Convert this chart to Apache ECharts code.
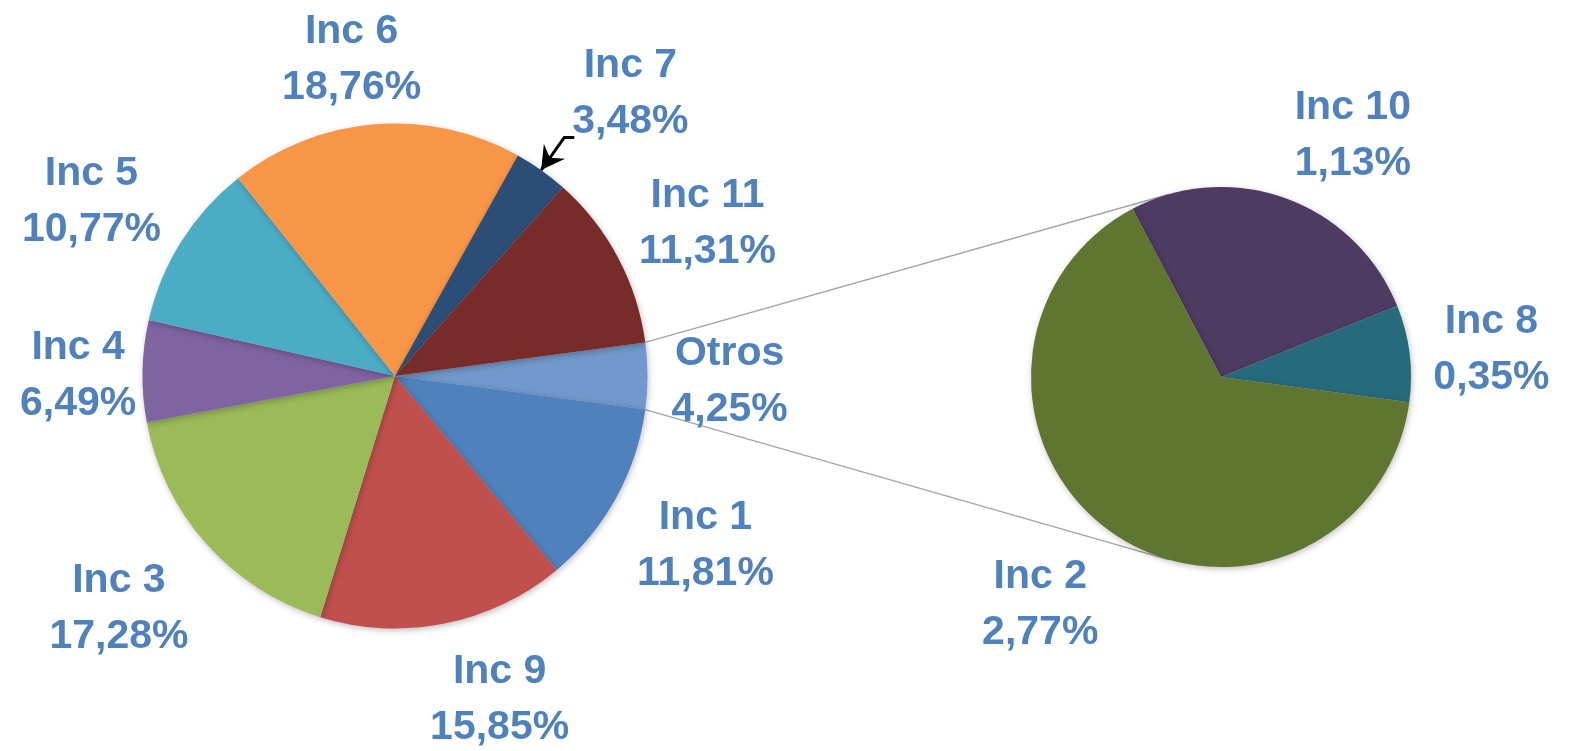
<!DOCTYPE html>
<html>
<head>
<meta charset="utf-8">
<title>Incidencias</title>
<script src="https://cdn.jsdelivr.net/npm/echarts@6/dist/echarts.min.js"></script>
<style>
	html, body { margin: 0; padding: 0; background: #fff; }
	#grafico { width: 1573px; height: 751px; }
</style>
</head>
<body>
<div id="grafico"></div>
<script>
// datos del grafico principal (Otros = suma del secundario)
var nombresPrincipal = ['Otros', 'Inc 1', 'Inc 9', 'Inc 3', 'Inc 4', 'Inc 5', 'Inc 6', 'Inc 7', 'Inc 11'];
var valoresPrincipal = [4.25, 11.81, 15.85, 17.28, 6.49, 10.77, 18.76, 3.48, 11.31];
// datos del grafico secundario
var nombresOtros = ['Inc 10', 'Inc 8', 'Inc 2'];
var valoresOtros = [1.13, 0.35, 2.77];

var coloresPrincipal = ['#7299CD', '#4F81BD', '#C0504D', '#9BBB59', '#8064A2', '#4BACC6', '#F79646', '#2C4D75', '#772C2A'];
var coloresOtros = ['#4D3B62', '#276A7C', '#5F7530'];

// geometria
var c1 = [395, 376], r1 = 252.5;
var c2 = [1221, 377], r2 = 190;
var conFlecha = 'Inc 7'; // la unica etiqueta con flecha
var huecoX = 24, huecoY = 15; // hueco entre tarta y etiqueta
var bajarTexto = 6;           // el texto de Excel queda algo mas bajo
var margen = 20;              // las etiquetas no salen del area del grafico

function suma(arr) {
	var s = 0;
	for (var i = 0; i < arr.length; i++) s += arr[i];
	return s;
}
var totalPrincipal = suma(valoresPrincipal);
var totalOtros = suma(valoresOtros);
var mitadOtros = valoresPrincipal[0] / totalPrincipal * 180; // Otros centrado a las 3
var inicioPrincipal = mitadOtros;
var inicioOtros = (valoresOtros[0] + valoresOtros[1]) / totalOtros * 360 - mitadOtros;

function textoPct(v) {
	return v.toFixed(2).replace('.', ',') + '%';
}

var datosPrincipal = nombresPrincipal.map(function (n, i) {
	var d = { name: n, value: valoresPrincipal[i], itemStyle: { color: coloresPrincipal[i] } };
	if (n == conFlecha) {
		d.labelLine = { lineStyle: { color: '#000', width: 3 } };
	}
	return d;
});
var datosOtros = nombresOtros.map(function (n, i) {
	return { name: n, value: valoresOtros[i], itemStyle: { color: coloresOtros[i] } };
});

function limitar(v, a, b) {
	return Math.max(a, Math.min(b, v));
}

// coloca la etiqueta fuera de la tarta, como el "ajuste perfecto" de Excel
function colocarEtiqueta(params) {
	var pts = params.labelLinePoints;
	if (!pts) return {};
	var dx = pts[1][0] - pts[0][0], dy = pts[1][1] - pts[0][1];
	var len = Math.sqrt(dx * dx + dy * dy);
	dx /= len; dy /= len;
	var w = params.labelRect.width, h = params.labelRect.height;
	if (params.seriesIndex === 0 && nombresPrincipal[params.dataIndex] == conFlecha) {
		return { x: pts[2][0] + w / 2 - 2, y: pts[2][1] + 12, align: 'center', verticalAlign: 'bottom', labelLinePoints: pts };
	}
	var fx = limitar(dx * 3.7, -1, 1);
	var fy = limitar(dy * 1.4, -1, 1);
	var x = pts[0][0] + fx * w / 2 + dx * huecoX;
	var y = pts[0][1] + fy * h / 2 + dy * Math.abs(dy) * huecoY + bajarTexto;
	x = limitar(x, margen + w / 2, myChart.getWidth() - margen - w / 2);
	return { x: x, y: y, align: 'center', verticalAlign: 'middle' };
}

var etiqueta = {
	show: true,
	position: 'outside',
	overflow: 'none',
	formatter: function (p) { return p.name + '\n' + textoPct(p.value); },
	fontFamily: 'Liberation Sans',
	fontWeight: 'bold',
	fontSize: 41,
	lineHeight: 56,
	color: '#4F81BD'
};
var linea = { show: true, length: 40, length2: 10, smooth: false, lineStyle: { color: 'rgba(0,0,0,0)', width: 1 } };
var sombra = { shadowBlur: 6, shadowColor: 'rgba(0,0,0,0.25)', shadowOffsetX: 1, shadowOffsetY: 2, borderWidth: 0 };

// lineas de union entre Otros y la tarta secundaria (tangentes)
var graficos = [];
[1, -1].forEach(function (signo) {
	var a = signo * mitadOtros * Math.PI / 180;
	var p = [c1[0] + r1 * Math.cos(a), c1[1] - r1 * Math.sin(a)];
	var vx = p[0] - c2[0], vy = p[1] - c2[1];
	var d = Math.sqrt(vx * vx + vy * vy);
	var t = Math.atan2(vy, vx) + signo * Math.acos(r2 / d);
	graficos.push({
		type: 'line',
		z: 0,
		shape: { x1: p[0], y1: p[1], x2: c2[0] + r2 * Math.cos(t), y2: c2[1] + r2 * Math.sin(t) },
		style: { stroke: '#A5A5A5', lineWidth: 1.5 }
	});
});

// punta de flecha de Inc 7
var iFlecha = nombresPrincipal.indexOf(conFlecha);
var antes = suma(valoresPrincipal.slice(0, iFlecha));
var angFlecha = (inicioPrincipal - (antes + valoresPrincipal[iFlecha] / 2) / totalPrincipal * 360) * Math.PI / 180;
var ux = Math.cos(angFlecha), uy = -Math.sin(angFlecha);
var nx = -uy, ny = ux;
var tip = [c1[0] + r1 * ux, c1[1] + r1 * uy];
graficos.push({
	type: 'polygon',
	z: 100,
	shape: {
		points: [
			tip,
			[tip[0] + ux * 23 + nx * 13, tip[1] + uy * 23 + ny * 13],
			[tip[0] + ux * 15, tip[1] + uy * 15],
			[tip[0] + ux * 23 - nx * 13, tip[1] + uy * 23 - ny * 13]
		]
	},
	style: { fill: '#000' }
});

var myChart = echarts.init(document.getElementById('grafico'));
var option = {
	backgroundColor: '#fff',
	animation: false,
	graphic: graficos,
	series: [
		{
			name: 'Incidencias',
			type: 'pie',
			center: c1,
			radius: [0, r1],
			startAngle: inicioPrincipal,
			clockwise: true,
			avoidLabelOverlap: false,
			data: datosPrincipal,
			label: etiqueta,
			labelLine: linea,
			labelLayout: colocarEtiqueta,
			itemStyle: sombra,
			emphasis: { disabled: true }
		},
		{
			name: 'Otros',
			type: 'pie',
			center: c2,
			radius: [0, r2],
			startAngle: inicioOtros,
			clockwise: true,
			avoidLabelOverlap: false,
			data: datosOtros,
			label: etiqueta,
			labelLine: linea,
			labelLayout: colocarEtiqueta,
			itemStyle: sombra,
			emphasis: { disabled: true }
		}
	]
};
myChart.setOption(option);
</script>
</body>
</html>
